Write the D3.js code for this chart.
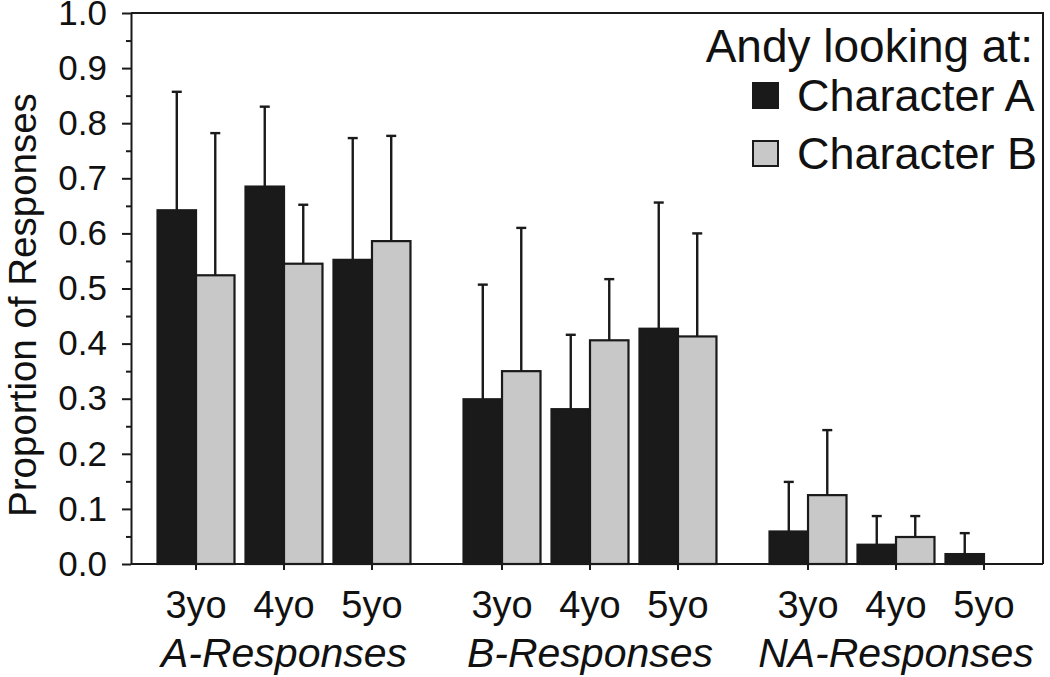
<!DOCTYPE html>
<html>
<head>
<meta charset="utf-8">
<script src="https://cdn.jsdelivr.net/npm/d3@7"></script>
<style>
  body { margin: 0; background: #fff; }
  text { font-family: "Liberation Sans", Arial, sans-serif; fill: #111; }
</style>
</head>
<body>
<svg class="chart" width="1050" height="677"></svg>
<script>
// data
let groups = ["A-Responses", "B-Responses", "NA-Responses"];
let ages = ["3yo", "4yo", "5yo"];
let series = ["Character A", "Character B"];
// means, in order groups x ages
let meanA = [0.642, 0.685, 0.552, 0.299, 0.281, 0.427, 0.059, 0.035, 0.018];
let meanB = [0.524, 0.545, 0.586, 0.350, 0.406, 0.413, 0.125, 0.049, 0.0];
// upper end of the error bars
let errTopA = [0.857, 0.830, 0.773, 0.507, 0.416, 0.656, 0.149, 0.087, 0.056];
let errTopB = [0.782, 0.652, 0.777, 0.610, 0.517, 0.600, 0.243, 0.087, 0.0];
let yTicks = [0, 0.1, 0.2, 0.3, 0.4, 0.5, 0.6, 0.7, 0.8, 0.9, 1.0];

let colors = {"Character A": "#1a1a1a", "Character B": "#c8c8c8"};

// layout
let margin = {top: 13, right: 7, bottom: 113, left: 131};
let width = 1050 - margin.left - margin.right;
let height = 677 - margin.top - margin.bottom;

let svg = d3.select('svg.chart');
let g = svg.append('g').attr('transform', `translate(${margin.left},${margin.top})`);

// build rows for the bars
let rows = [];
groups.forEach((grp, gi) => {
  ages.forEach((age, ai) => {
    let k = gi * ages.length + ai;
    rows.push({group: grp, age: age, series: series[0], value: meanA[k], err: errTopA[k]});
    rows.push({group: grp, age: age, series: series[1], value: meanB[k], err: errTopB[k]});
  });
});

// scales
let x0 = d3.scaleBand().domain(groups).range([0, 918]);
let x1 = d3.scaleBand().domain(ages).range([0, x0.bandwidth()]).paddingInner(0).paddingOuter(0.239);
let x2 = d3.scaleBand().domain(series).range([0, x1.bandwidth()]).paddingInner(0).paddingOuter(0.143);
let y = d3.scaleLinear().domain([0, 1]).range([height, 0]);

let barX = d => x0(d.group) + x1(d.age) + x2(d.series);

// frame (top and right)
g.append('path')
  .attr('d', `M0,0H${width}V${height}`)
  .attr('fill', 'none')
  .attr('stroke', '#1a1a1a')
  .attr('stroke-width', 2);

// error bars, drawn under the bars
let errs = g.selectAll('g.err')
  .data(rows.filter(d => d.value > 0))
  .enter()
  .append('g')
  .attr('class', 'err')
  .attr('stroke', '#1a1a1a')
  .attr('stroke-width', 2.4);

errs.append('line')
  .attr('x1', d => barX(d) + x2.bandwidth() / 2)
  .attr('x2', d => barX(d) + x2.bandwidth() / 2)
  .attr('y1', d => y(d.value))
  .attr('y2', d => y(d.err));

errs.append('line')
  .attr('x1', d => barX(d) + x2.bandwidth() / 2 - 5)
  .attr('x2', d => barX(d) + x2.bandwidth() / 2 + 5)
  .attr('y1', d => y(d.err))
  .attr('y2', d => y(d.err));

// bars
g.selectAll('rect.bar')
  .data(rows.filter(d => d.value > 0))
  .enter()
  .append('rect')
  .attr('class', 'bar')
  .attr('x', d => barX(d))
  .attr('y', d => y(d.value))
  .attr('width', x2.bandwidth())
  .attr('height', d => height - y(d.value))
  .attr('fill', d => colors[d.series])
  .attr('stroke', '#1a1a1a')
  .attr('stroke-width', 2.2);

// y axis, major and minor ticks
let yAxis = g.append('g')
  .call(d3.axisLeft(y).tickValues(yTicks).tickFormat(d3.format('.1f')).tickSize(9).tickPadding(15).tickSizeOuter(0));
yAxis.select('.domain').attr('stroke', '#1a1a1a').attr('stroke-width', 2);
yAxis.selectAll('.tick line').attr('stroke', '#1a1a1a').attr('stroke-width', 2);
yAxis.selectAll('.tick text').style('font-size', '35px');

let yMinor = g.append('g')
  .call(d3.axisLeft(y).tickValues(yTicks.slice(0, -1).map(v => v + 0.05)).tickFormat('').tickSize(5).tickSizeOuter(0));
yMinor.select('.domain').remove();
yMinor.selectAll('.tick line').attr('stroke', '#1a1a1a').attr('stroke-width', 2);

// x axis line
g.append('line')
  .attr('x1', 0).attr('x2', width)
  .attr('y1', height).attr('y2', height)
  .attr('stroke', '#1a1a1a')
  .attr('stroke-width', 2);

// one small axis per group for the age ticks
groups.forEach(grp => {
  let ax = g.append('g')
    .attr('transform', `translate(${x0(grp)},${height})`)
    .call(d3.axisBottom(x1).tickSize(6).tickPadding(21).tickSizeOuter(0));
  ax.select('.domain').remove();
  ax.selectAll('.tick line').attr('stroke', '#1a1a1a').attr('stroke-width', 2);
  ax.selectAll('.tick text').style('font-size', '38px');
});

// group labels
g.selectAll('text.grp')
  .data(groups)
  .enter()
  .append('text')
  .attr('class', 'grp')
  .attr('x', d => x0(d) + x0.bandwidth() / 2)
  .attr('y', height + 103)
  .attr('text-anchor', 'middle')
  .style('font-size', '41px')
  .style('font-style', 'italic')
  .text(d => d);

// y title
svg.append('text')
  .attr('transform', 'translate(36,305) rotate(-90)')
  .attr('text-anchor', 'middle')
  .style('font-size', '38.5px')
  .text('Proportion of Responses');

// legend
let legend = svg.append('g');
legend.append('text')
  .attr('x', 1033)
  .attr('y', 62)
  .attr('text-anchor', 'end')
  .style('font-size', '46px')
  .text('Andy looking at:');

let items = legend.selectAll('g.item')
  .data(series)
  .enter()
  .append('g')
  .attr('class', 'item')
  .attr('transform', (d, i) => `translate(753,${83 + i * 58})`);

items.append('rect')
  .attr('width', 25)
  .attr('height', 25)
  .attr('fill', d => colors[d])
  .attr('stroke', '#1a1a1a')
  .attr('stroke-width', 2);

items.append('text')
  .attr('x', 44)
  .attr('y', 28)
  .style('font-size', '45px')
  .text(d => d);
</script>
</body>
</html>
